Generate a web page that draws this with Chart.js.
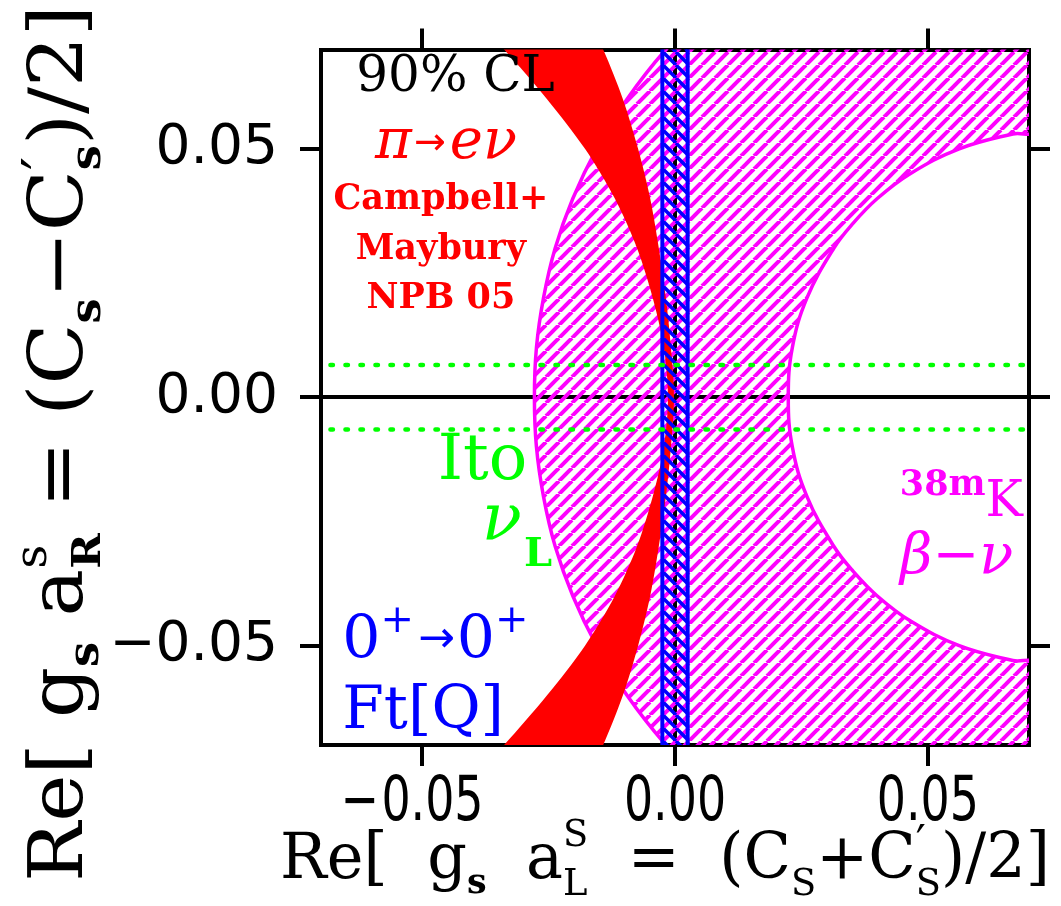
<!DOCTYPE html>
<html>
<head>
<meta charset="utf-8">
<title>Scalar couplings</title>
<script src="https://cdn.jsdelivr.net/npm/chart.js@4.4.1/dist/chart.umd.min.js"></script>
<style>
html,body{margin:0;padding:0;background:#fff;overflow:hidden;}
canvas{display:block;}
</style>
</head>
<body>
<canvas id="c" width="1061" height="906"></canvas>
<script>
// ---------------- data ----------------
const axisMin = -0.07, axisMax = 0.07;
const xTickValues = [-0.05, 0, 0.05];
const xTickLabels = ['\u22120.05', '0.00', '0.05'];
const yTickValues = [-0.05, 0, 0.05];
const yTickLabels = ['\u22120.05', '0.00', '0.05'];

// 38mK beta-nu allowed band (hatched): outer boundary, top -> bottom
const kOuterY = [0.075, 0.07, 0.06, 0.05, 0.04, 0.03, 0.02, 0.01, 0, -0.01, -0.02, -0.03, -0.04, -0.05, -0.06, -0.07, -0.075];
const kOuterX = [0.0035, -0.0018, -0.0095, -0.0155, -0.0202, -0.0237, -0.0260, -0.0274, -0.0278, -0.0274, -0.0260, -0.0237, -0.0202, -0.0155, -0.0095, -0.0018, 0.0035];
// inner (excluded) boundary, bottom -> top
const kInnerY = [-0.075, -0.0537, -0.053, -0.05, -0.045, -0.04, -0.035, -0.03, -0.02, -0.01, 0, 0.01, 0.02, 0.03, 0.035, 0.04, 0.045, 0.05, 0.053, 0.0537, 0.075];
const kInnerX = [0.08, 0.0714, 0.0668, 0.0562, 0.0465, 0.0400, 0.0352, 0.0314, 0.0261, 0.0232, 0.0224, 0.0232, 0.0261, 0.0314, 0.0352, 0.0400, 0.0465, 0.0562, 0.0668, 0.0714, 0.08];

// pi -> e nu band (Campbell + Maybury NPB 05): left edge top -> bottom, right edge bottom -> top
const piLeftY  = [0.08, 0.07, 0.06, 0.05, 0.04, 0.03, 0.02, 0.01, 0, -0.01, -0.02, -0.03, -0.04, -0.05, -0.06, -0.07, -0.08];
const piLeftX  = [-0.0433, -0.0338, -0.0253, -0.0178, -0.0119, -0.0075, -0.0044, -0.0022, -0.0014, -0.0022, -0.0044, -0.0075, -0.0119, -0.0178, -0.0253, -0.0338, -0.0433];
const piRightY = [-0.08, -0.07, -0.06, -0.05, -0.04, -0.03, -0.02, -0.01, 0, 0.01, 0.02, 0.03, 0.04, 0.05, 0.06, 0.07, 0.08];
const piRightX = [-0.0190, -0.0142, -0.0103, -0.0073, -0.0049, -0.0032, -0.0018, -0.0008, -0.0002, -0.0008, -0.0018, -0.0032, -0.0049, -0.0073, -0.0103, -0.0142, -0.0190];

// 0+ -> 0+ Ft[Q] band
const ftBandX = [-0.0025, -0.0025, 0.0025, 0.0025];
const ftBandY = [-0.075, 0.075, 0.075, -0.075];

// Ito nu_L limits (dotted)
const itoLimitY = [0.0065, -0.0065];
const itoSpanX = [-0.08, 0.08];

// ---------------- helpers ----------------
const MAGENTA = '#ff00ff', RED = '#ff0000', BLUE = '#0000ff', GREEN = '#00ff00', BLACK = '#000000';
const SERIF = '"DejaVu Serif", serif';
const SANS = '"DejaVu Sans", sans-serif';

function pts(xs, ys) { return xs.map((x, i) => ({ x: x, y: ys[i] })); }

const canvas = document.getElementById('c');
const mainCtx = canvas.getContext('2d');

function hatch(color, size, lw, dir) {
  const c = document.createElement('canvas');
  c.width = size; c.height = size;
  const g = c.getContext('2d');
  g.strokeStyle = color; g.lineWidth = lw;
  for (let k = -1; k <= 1; k++) {
    g.beginPath();
    if (dir === '/') { g.moveTo(k * size, size); g.lineTo(k * size + size, 0); }
    else { g.moveTo(k * size, 0); g.lineTo(k * size + size, size); }
    g.stroke();
  }
  return mainCtx.createPattern(c, 'repeat');
}

// draws a sequence of text runs (for sub/superscripts); fit = target width or {scale}
function drawRuns(ctx, runs, x, y, align, fit, rot) {
  ctx.save();
  ctx.textBaseline = 'alphabetic';
  ctx.textAlign = 'left';
  let pos = 0, lastStart = 0;
  const placed = runs.map(r => {
    ctx.font = r.f;
    const w = ctx.measureText(r.t).width;
    let start;
    if (r.stack) {
      start = lastStart;
      pos = Math.max(pos, start + w);
    } else {
      start = pos + (r.dx || 0);
      pos = start + w;
      lastStart = start;
    }
    return { r: r, start: start };
  });
  const total = pos;
  ctx.translate(x, y);
  if (rot) ctx.rotate(rot);
  let sx = 1;
  if (typeof fit === 'number') sx = fit / total;
  else if (fit && fit.scale) sx = fit.scale;
  ctx.scale(sx, 1);
  const off = align === 'center' ? -total / 2 : (align === 'right' ? -total : 0);
  placed.forEach(p => {
    ctx.font = p.r.f;
    ctx.fillStyle = p.r.c;
    ctx.fillText(p.r.t, off + p.start, p.r.dy || 0);
  });
  ctx.restore();
}

// in-plot labels, anchored in data coordinates
const annotations = [
  { x: -0.0434, y: 0.0617, align: 'center', runs: [{ t: '90% CL', f: '50px ' + SERIF, c: BLACK }] },
  { x: -0.0593, y: 0.0481, align: 'left', runs: [
      { t: '\u03c0', f: 'italic 56px ' + SERIF, c: RED },
      { t: '\u2192', f: '38px ' + SANS, c: RED, dy: -4, dx: 2 },
      { t: 'e\u03bd', f: 'italic 56px ' + SERIF, c: RED, dx: 4 }] },
  { x: -0.0463, y: 0.0378, align: 'center', runs: [{ t: 'Campbell+', f: 'bold 35px ' + SERIF, c: RED }] },
  { x: -0.0463, y: 0.0279, align: 'center', runs: [{ t: 'Maybury', f: 'bold 35px ' + SERIF, c: RED }] },
  { x: -0.0463, y: 0.0180, align: 'center', runs: [{ t: 'NPB 05', f: 'bold 35px ' + SERIF, c: RED }] },
  { x: -0.0469, y: -0.0164, align: 'left', runs: [{ t: 'Ito', f: '64px ' + SERIF, c: GREEN }] },
  { x: -0.0382, y: -0.0287, align: 'left', runs: [
      { t: '\u03bd', f: 'italic 66px ' + SERIF, c: GREEN },
      { t: 'L', f: 'bold 40px ' + SERIF, c: GREEN, dy: 26, dx: 2 }] },
  { x: -0.0658, y: -0.0525, align: 'left', runs: [
      { t: '0', f: '60px ' + SERIF, c: BLUE },
      { t: '+', f: '40px ' + SERIF, c: BLUE, dy: -26 },
      { t: '\u2192', f: '44px ' + SANS, c: BLUE, dy: -6, dx: 4 },
      { t: '0', f: '60px ' + SERIF, c: BLUE, dx: 2 },
      { t: '+', f: '40px ' + SERIF, c: BLUE, dy: -26 }] },
  { x: -0.0658, y: -0.0666, align: 'left', runs: [{ t: 'Ft[Q]', f: '60px ' + SERIF, c: BLUE }] },
  { x: 0.0688, y: -0.0240, align: 'right', runs: [
      { t: '38m', f: 'bold 35px ' + SERIF, c: MAGENTA, dy: -21 },
      { t: 'K', f: '50px ' + SERIF, c: MAGENTA }] },
  { x: 0.0445, y: -0.0354, align: 'left', runs: [{ t: '\u03b2\u2212\u03bd', f: 'italic 56px ' + SERIF, c: MAGENTA }] }
];

// axis titles (with sub/superscripts)
const xTitleRuns = [
  { t: 'Re[  g', f: '64px ' + SERIF, c: BLACK },
  { t: 's', f: 'bold 36px ' + SERIF, c: BLACK, dy: 15 },
  { t: '  a', f: '64px ' + SERIF, c: BLACK },
  { t: 'L', f: '38px ' + SERIF, c: BLACK, dy: 17 },
  { t: 'S', f: '38px ' + SERIF, c: BLACK, dy: -32, stack: true },
  { t: '  =  (C', f: '64px ' + SERIF, c: BLACK },
  { t: 'S', f: '38px ' + SERIF, c: BLACK, dy: 17 },
  { t: '+C', f: '64px ' + SERIF, c: BLACK },
  { t: 'S', f: '38px ' + SERIF, c: BLACK, dy: 17 },
  { t: '\u2032', f: '46px ' + SERIF, c: BLACK, dy: -20, stack: true },
  { t: ')/2]', f: '64px ' + SERIF, c: BLACK }
];
const yTitleRuns = [
  { t: 'Re[ g', f: '75px ' + SERIF, c: BLACK },
  { t: 's', f: 'bold 42px ' + SERIF, c: BLACK, dy: 16 },
  { t: ' a', f: '75px ' + SERIF, c: BLACK },
  { t: 'R', f: 'bold 40px ' + SERIF, c: BLACK, dy: 18 },
  { t: 's', f: '44px ' + SERIF, c: BLACK, dy: -36, stack: true },
  { t: ' = (C', f: '75px ' + SERIF, c: BLACK },
  { t: 's', f: 'bold 42px ' + SERIF, c: BLACK, dy: 18 },
  { t: '\u2212C', f: '75px ' + SERIF, c: BLACK },
  { t: 's', f: 'bold 42px ' + SERIF, c: BLACK, dy: 18 },
  { t: '\u2032', f: '56px ' + SERIF, c: BLACK, dy: -20, stack: true },
  { t: ')/2]', f: '75px ' + SERIF, c: BLACK }
];

function tickRuns(label) {
  const f = '62px ' + SANS;
  if (label.charAt(0) === '\u2212') {
    return [{ t: '\u2212', f: f, c: BLACK }, { t: label.slice(1), f: f, c: BLACK, dx: 3 }];
  }
  return [{ t: label, f: f, c: BLACK }];
}

const textPlugin = {
  id: 'texts',
  afterDraw(chart) {
    const ctx = chart.ctx;
    const xs = chart.scales.x, ys = chart.scales.y;
    // bottom tick labels (condensed)
    xTickValues.forEach((v, i) => {
      drawRuns(ctx, tickRuns(xTickLabels[i]), xs.getPixelForValue(v) - (v < 0 ? 10 : 0), 820, 'center', { scale: 0.74 }, 0);
    });
    annotations.forEach(a => {
      drawRuns(ctx, a.runs, xs.getPixelForValue(a.x), ys.getPixelForValue(a.y), a.align, a.fit || null, 0);
    });
    // x title under the bottom axis
    drawRuns(ctx, xTitleRuns, 280, 878, 'left', 770, 0);
    // y title, rotated, left of the y tick labels
    drawRuns(ctx, yTitleRuns, 82, 882, 'left', 877, -Math.PI / 2);
  }
};

function zeroGrid(ctx) { return ctx.tick && ctx.tick.value === 0 ? BLACK : 'rgba(0,0,0,0)'; }

function axis(position, opts) {
  const horizontal = position === 'top' || position === 'bottom';
  const values = horizontal ? xTickValues : yTickValues;
  const labels = horizontal ? xTickLabels : yTickLabels;
  return Object.assign({
    type: 'linear', position: position, min: axisMin, max: axisMax, z: 1,
    afterBuildTicks: s => { s.ticks = values.map(v => ({ value: v })); },
    grid: { color: BLACK, tickColor: BLACK, lineWidth: 4, tickWidth: 4, tickLength: 21, drawTicks: true, drawOnChartArea: false },
    border: { display: true, color: BLACK, width: 4 },
    ticks: { display: false, autoSkip: false, maxRotation: 0, minRotation: 0,
             callback: (v) => labels[values.indexOf(v)] }
  }, opts);
}

const dotted = { borderColor: GREEN, borderWidth: 4.5, borderDash: [2.5, 12.5], borderCapStyle: 'round', fill: false, clip: 0 };

const chart = new Chart(mainCtx, {
  type: 'line',
  data: {
    datasets: [
      Object.assign({ label: 'Ito upper', data: pts(itoSpanX, [itoLimitY[0], itoLimitY[0]]) }, dotted),
      Object.assign({ label: 'Ito lower', data: pts(itoSpanX, [itoLimitY[1], itoLimitY[1]]) }, dotted),
      { label: '0+ -> 0+ Ft[Q]', data: pts(ftBandX, ftBandY), borderColor: BLUE, borderWidth: 4, backgroundColor: hatch(BLUE, 13, 3.5, '\\'), fill: 'shape', clip: 0 },
      { label: 'pi -> e nu', data: pts(piLeftX.concat(piRightX), piLeftY.concat(piRightY)), borderColor: RED, borderWidth: 0, backgroundColor: RED, fill: 'shape', tension: 0.3, clip: 0 },
      { label: '38mK beta-nu', data: pts(kOuterX.concat(kInnerX), kOuterY.concat(kInnerY)), borderColor: MAGENTA, borderWidth: 3.5, backgroundColor: hatch(MAGENTA, 13, 4, '/'), fill: 'shape', tension: 0.4, clip: 0 }
    ]
  },
  options: {
    responsive: false, animation: false, devicePixelRatio: 1, events: [],
    layout: { padding: 0 },
    elements: { point: { radius: 0, hoverRadius: 0 }, line: { borderJoinStyle: 'round' } },
    plugins: { legend: { display: false }, tooltip: { enabled: false }, title: { display: false } },
    scales: {
      x: axis('bottom', {
        afterFit: s => { s.height = 906 - 745; },
        grid: { color: zeroGrid, tickColor: BLACK, lineWidth: 4, tickWidth: 4, tickLength: 21, drawTicks: true, drawOnChartArea: true }
      }),
      x2: axis('top', { afterFit: s => { s.height = 40; } }),
      y: axis('left', {
        afterFit: s => { s.width = 321; },
        grid: { color: zeroGrid, tickColor: BLACK, lineWidth: 4, tickWidth: 4, tickLength: 21, drawTicks: true, drawOnChartArea: true },
        ticks: { display: true, autoSkip: false, padding: 22, color: BLACK,
                 font: { family: SANS, size: 55, lineHeight: 1.0 },
                 callback: (v) => yTickLabels[yTickValues.indexOf(v)] }
      }),
      y2: axis('right', { afterFit: s => { s.width = 1061 - 1029; } })
    }
  },
  plugins: [textPlugin]
});
</script>
</body>
</html>
